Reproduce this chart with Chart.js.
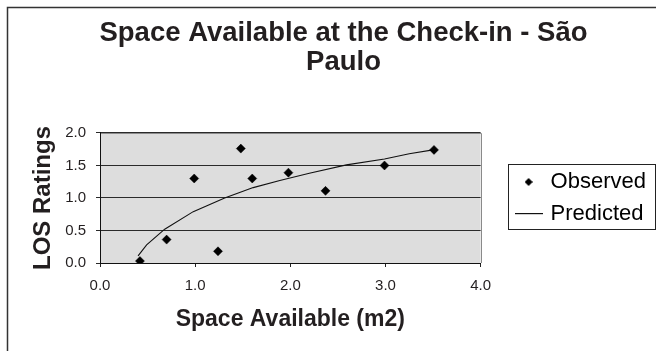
<!DOCTYPE html>
<html>
<head>
<meta charset="utf-8">
<script src="https://cdn.jsdelivr.net/npm/chart.js@4/dist/chart.umd.min.js"></script>
<style>
  html, body { margin: 0; padding: 0; background: #fff; overflow: hidden; }
  canvas { display: block; }
</style>
</head>
<body>
<canvas id="c" width="656" height="351"></canvas>
<script>
// ---- data ----
const chartTitle = ['Space Available at the Check-in - São', 'Paulo'];
const xAxisTitle = 'Space Available (m2)';
const yAxisTitle = 'LOS Ratings';
const seriesNames = ['Observed', 'Predicted'];

const observedX = [0.42, 0.70, 0.99, 1.24, 1.48, 1.60, 1.98, 2.37, 2.99, 3.51];
const observedY = [0.03, 0.36, 1.30, 0.18, 1.76, 1.30, 1.39, 1.11, 1.50, 1.74];

const predictedX = [0.40, 0.49, 0.68, 0.98, 1.31, 1.61, 1.89, 2.20, 2.59, 2.99, 3.25, 3.50];
const predictedY = [0.11, 0.28, 0.52, 0.79, 1.00, 1.16, 1.27, 1.38, 1.51, 1.60, 1.68, 1.74];

const xTicks = [0, 1, 2, 3, 4];
const yTicks = [0, 0.5, 1.0, 1.5, 2.0];

// ---- styling ----
const FONT = "'Liberation Sans', Arial, Helvetica, sans-serif";
const INK = '#231f20';
Chart.defaults.font.family = FONT;
Chart.defaults.color = INK;

// legend marker images
const diamondImg = document.createElement('canvas');
diamondImg.width = 8; diamondImg.height = 8;
(function () {
  const g = diamondImg.getContext('2d');
  g.fillStyle = '#000';
  g.beginPath();
  g.moveTo(4, 0); g.lineTo(8, 4); g.lineTo(4, 8); g.lineTo(0, 4);
  g.closePath(); g.fill();
})();
const lineImg = document.createElement('canvas');
lineImg.width = 28; lineImg.height = 2;
(function () {
  const g = lineImg.getContext('2d');
  g.fillStyle = '#111';
  g.fillRect(0, 0, 28, 1.2);
})();

const decorPlugin = {
  id: 'decor',
  beforeDraw(chart) {
    const ctx = chart.ctx;
    const a = chart.chartArea;
    ctx.save();
    ctx.fillStyle = '#fff';
    ctx.fillRect(0, 0, chart.width, chart.height);
    // outer chart border (cropped on right and bottom)
    ctx.strokeStyle = '#333';
    ctx.lineWidth = 1.5;
    ctx.beginPath();
    ctx.moveTo(7.5, chart.height);
    ctx.lineTo(7.5, 7.5);
    ctx.lineTo(chart.width, 7.5);
    ctx.stroke();
    // plot area
    ctx.fillStyle = '#dddddd';
    ctx.fillRect(a.left, a.top, a.right - a.left, a.bottom - a.top);
    ctx.strokeStyle = '#8a8a8a';
    ctx.lineWidth = 1;
    ctx.beginPath();
    ctx.moveTo(a.left, a.top + 0.5);
    ctx.lineTo(Math.round(a.right) + 0.5, a.top + 0.5);
    ctx.lineTo(Math.round(a.right) + 0.5, a.bottom);
    ctx.stroke();
    ctx.restore();
  },
  afterDraw(chart) {
    const lg = chart.legend;
    if (!lg) return;
    const ctx = chart.ctx;
    const cy = (lg.top + lg.bottom) / 2 - 1;
    ctx.save();
    ctx.strokeStyle = '#222';
    ctx.lineWidth = 1;
    ctx.strokeRect(Math.round(lg.left) + 0.5, Math.round(cy - 32.5) + 0.5, 147, 65);
    ctx.restore();
  }
};

new Chart(document.getElementById('c'), {
  type: 'scatter',
  data: {
    datasets: [
      {
        label: seriesNames[0],
        data: observedX.map((x, i) => ({ x, y: observedY[i] })),
        pointStyle: 'rectRot',
        pointRadius: 4.5,
        pointBackgroundColor: '#000',
        pointBorderColor: '#000',
        pointBorderWidth: 0.5,
        showLine: false
      },
      {
        label: seriesNames[1],
        data: predictedX.map((x, i) => ({ x, y: predictedY[i] })),
        showLine: true,
        borderColor: '#111',
        borderWidth: 1.1,
        pointRadius: 0,
        tension: 0
      }
    ]
  },
  options: {
    responsive: false,
    animation: false,
    devicePixelRatio: 1,
    events: [],
    layout: { padding: { left: 31, right: 0, top: 8, bottom: 19.5 } },
    plugins: {
      tooltip: { enabled: false },
      title: {
        display: true,
        text: chartTitle,
        color: INK,
        font: { family: FONT, size: 27.5, weight: 'bold', lineHeight: 1.0727 },
        padding: { top: 10.5, bottom: 55.5 }
      },
      legend: {
        display: true,
        position: 'right',
        fullSize: false,
        maxWidth: 200,
        labels: {
          usePointStyle: true,
          pointStyleWidth: 22,
          padding: 10,
          color: INK,
          font: { family: FONT, size: 22 },
          generateLabels: (chart) => chart.data.datasets.map((ds, i) => ({
            text: ds.label,
            pointStyle: i === 0 ? diamondImg : lineImg,
            fillStyle: '#000',
            strokeStyle: '#000',
            lineWidth: 0,
            hidden: false,
            datasetIndex: i
          }))
        }
      }
    },
    scales: {
      x: {
        type: 'linear',
        position: 'bottom',
        min: xTicks[0],
        max: xTicks[xTicks.length - 1],
        afterBuildTicks: (s) => { s.ticks = xTicks.map(v => ({ value: v })); },
        afterFit: (s) => { s.height = 68.5; },
        ticks: {
          autoSkip: false,
          maxRotation: 0,
          padding: 10,
          color: INK,
          font: { family: FONT, size: 15 },
          callback: (v) => Number(v).toFixed(1)
        },
        grid: { drawOnChartArea: false, drawTicks: true, tickLength: 4, color: '#222', lineWidth: 1 },
        border: { display: true, color: '#111', width: 1 },
        title: {
          display: true,
          text: xAxisTitle,
          color: INK,
          font: { family: FONT, size: 23, weight: 'bold', lineHeight: 1 },
          padding: { top: 0, bottom: 0 }
        }
      },
      y: {
        type: 'linear',
        position: 'left',
        min: yTicks[0],
        max: yTicks[yTicks.length - 1],
        afterBuildTicks: (s) => { s.ticks = yTicks.map(v => ({ value: v })); },
        afterFit: (s) => { s.width = 69; },
        ticks: {
          padding: 10,
          color: INK,
          font: { family: FONT, size: 15 },
          callback: (v) => Number(v).toFixed(1)
        },
        grid: { drawOnChartArea: true, drawTicks: true, tickLength: 4, color: '#2a2a2a', lineWidth: 1 },
        border: { display: true, color: '#111', width: 1 },
        title: {
          display: true,
          text: yAxisTitle,
          color: INK,
          font: { family: FONT, size: 24, weight: 'bold', lineHeight: 1 },
          padding: { top: 0, bottom: 0 }
        }
      },
      gap: {
        type: 'linear',
        position: 'right',
        display: true,
        grid: { display: false },
        border: { display: false },
        ticks: { display: false },
        afterFit: (s) => { s.width = 27; }
      }
    }
  },
  plugins: [decorPlugin]
});
</script>
</body>
</html>
